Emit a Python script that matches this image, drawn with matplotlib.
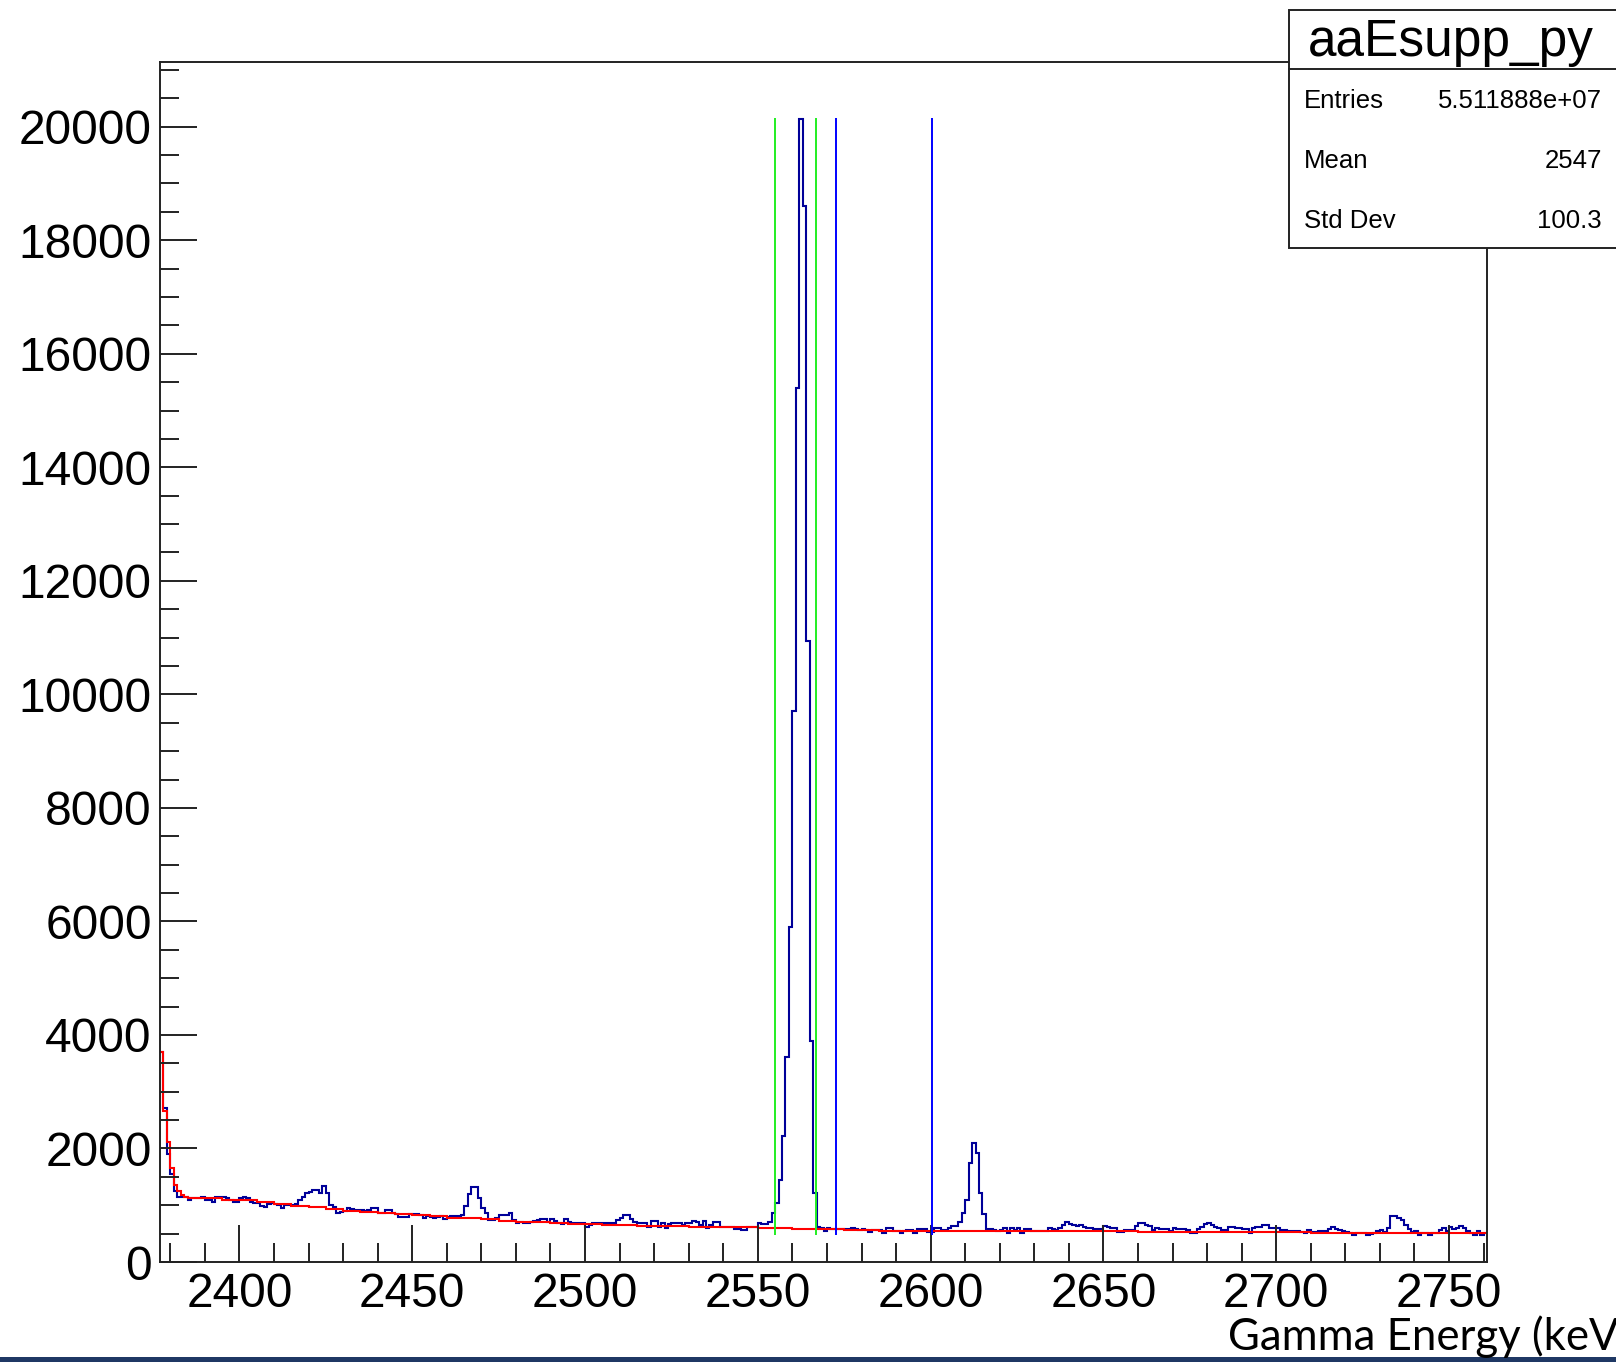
import numpy as np
import matplotlib.pyplot as plt
from matplotlib.patches import Rectangle
from matplotlib.lines import Line2D

# ROOT-like look: Helvetica -> Liberation Sans
plt.rcParams['font.family'] = ['Liberation Sans', 'DejaVu Sans']

# histogram aaEsupp_py, 1 keV bins starting at 2377 keV
e_start = 2377
counts = [
    3700, 2720, 1900, 1550, 1250, 1150, 1150, 1150, 1095, 1120,
    1120, 1120, 1150, 1090, 1090, 1060, 1150, 1150, 1140, 1120,
    1090, 1060, 1060, 1120, 1150, 1120, 1060, 1040, 1040, 990,
    975, 1030, 1040, 1030, 1000, 960, 1000, 1000, 1000, 1030,
    1090, 1150, 1210, 1240, 1270, 1270, 1210, 1340, 1210, 1000,
    975, 860, 880, 900, 960, 930, 920, 920, 920, 890,
    910, 950, 950, 870, 870, 910, 910, 860, 850, 786,
    786, 800, 845, 845, 845, 820, 770, 810, 786, 770,
    790, 816, 751, 790, 810, 810, 810, 820, 990, 1200,
    1327, 1327, 1121, 945, 857, 745, 740, 769, 826, 826,
    826, 857, 740, 693, 710, 693, 693, 700, 728, 740,
    751, 751, 700, 757, 720, 681, 675, 751, 710, 693,
    693, 681, 681, 622, 650, 693, 693, 693, 693, 693,
    693, 693, 740, 775, 826, 826, 751, 704, 681, 681,
    681, 611, 728, 728, 622, 681, 604, 669, 680, 692,
    692, 651, 681, 681, 728, 700, 651, 728, 593, 651,
    704, 704, 622, 622, 622, 622, 575, 575, 563, 563,
    622, 622, 622, 692, 669, 669, 704, 857, 1034, 1445,
    2220, 3617, 5900, 9700, 15400, 20140, 18600, 10940, 3900, 1222,
    622, 600, 552, 593, 585, 575, 575, 575, 575, 575,
    593, 580, 564, 575, 570, 534, 564, 564, 564, 517,
    593, 593, 552, 552, 517, 552, 565, 560, 517, 575,
    575, 575, 534, 534, 605, 605, 564, 564, 593, 634,
    640, 710, 860, 1100, 1740, 2096, 1920, 1222, 840, 590,
    575, 560, 546, 560, 605, 517, 593, 564, 593, 517,
    575, 575, 546, 546, 546, 546, 546, 605, 580, 564,
    593, 650, 710, 669, 650, 640, 652, 610, 593, 593,
    575, 575, 575, 634, 622, 593, 593, 534, 534, 564,
    564, 564, 634, 681, 693, 651, 634, 564, 593, 575,
    575, 575, 552, 593, 575, 575, 575, 564, 505, 505,
    575, 622, 669, 681, 651, 622, 593, 564, 564, 610,
    610, 593, 593, 575, 575, 517, 593, 622, 610, 651,
    651, 593, 593, 593, 564, 564, 552, 552, 552, 552,
    534, 505, 564, 534, 534, 552, 552, 552, 575, 622,
    575, 564, 550, 535, 505, 476, 505, 505, 505, 476,
    490, 517, 552, 564, 535, 593, 810, 810, 769, 740,
    651, 575, 535, 552, 476, 505, 505, 476, 505, 505,
    564, 593, 552, 610, 575, 593, 634, 593, 552, 505,
    476, 552, 476, 505,
]

# background estimate (red): first bins one by one, then 5 keV steps from 2385
bkg_head = [3700, 2660, 2120, 1650, 1360, 1250, 1180, 1150]
bkg_5kev = [
    1130, 1120, 1100, 1090, 1060, 1030, 990, 970, 930, 900,
    886, 870, 845, 830, 810, 780, 770, 750, 730, 710,
    700, 690, 675, 665, 655, 645, 634, 634, 630, 625,
    620, 611, 611, 605, 600, 590, 580, 575, 565, 555,
    550, 546, 546, 546, 546, 546, 546, 546, 546, 546,
    546, 540, 540, 538, 538, 535, 535, 534, 534, 534,
    534, 534, 530, 530, 520, 510, 505, 505, 505, 505,
    505, 505, 505, 505, 505, 505,
]

# gate markers
gate_green = [2554.9, 2566.8]
gate_blue = [2572.6, 2600.5]
gate_lo, gate_hi = 470, 20150

stats_names = ['Entries', 'Mean', 'Std Dev']
stats_values = ['5.511888e+07', '2547', '100.3']

edges = np.arange(e_start, e_start + len(counts) + 1)
bkg = np.concatenate([bkg_head, np.repeat(bkg_5kev, 5)])[:len(counts)]

W, H = 1616, 1362
fig = plt.figure(figsize=(W / 100, H / 100), dpi=100)
ax = fig.add_axes([160 / W, 100 / H, 1327 / W, 1200 / H])

ax.stairs(counts, edges, baseline=None, color='#000099', lw=1.5)
ax.stairs(bkg, edges, baseline=None, color='#ff0000', lw=1.5)
ax.vlines(gate_green, gate_lo, gate_hi, color='#22ee22', lw=1.4)
ax.vlines(gate_blue, gate_lo, gate_hi, color='#0000ff', lw=1.4)

ax.set_xlim(2377, 2761)
ax.set_ylim(0, 21140)
ax.set_xticks(np.arange(2400, 2751, 50))
ax.set_xticks(np.arange(2380, 2761, 10), minor=True)
ax.set_yticks(np.arange(0, 20001, 2000))
ax.set_yticks(np.arange(0, 21001, 500), minor=True)
ax.tick_params(which='both', direction='in', top=False, right=False,
               width=1.4, labelsize=34.5, color='#222222')
ax.tick_params(which='major', length=26.5)
ax.tick_params(which='minor', length=13.7)
ax.tick_params(axis='x', pad=7)
ax.tick_params(axis='y', pad=6)
for s in ax.spines.values():
    s.set_linewidth(1.4)
    s.set_color('#222222')

# stats box (runs off the right edge like in the screenshot)
box_l, box_t, box_b, box_div = 1289, 10, 248, 69
fig.add_artist(Rectangle((box_l / W, 1 - box_b / H), 0.3, (box_b - box_t) / H,
                         transform=fig.transFigure, facecolor='white',
                         edgecolor='#222222', lw=1.4, zorder=5))
fig.add_artist(Line2D([box_l / W, 1.0], [1 - box_div / H] * 2,
                      transform=fig.transFigure, color='#222222', lw=1.4, zorder=6))
fig.text(1451 / W, 1 - 56 / H, 'aaEsupp_py', ha='center', va='baseline',
         fontsize=37, zorder=7)
for i, (nm, val) in enumerate(zip(stats_names, stats_values)):
    yb = 1 - (108 + 60 * i) / H
    fig.text(1304 / W, yb, nm, ha='left', va='baseline', fontsize=18.5, zorder=7)
    fig.text(1602 / W, yb, val, ha='right', va='baseline', fontsize=18.5, zorder=7)

# slide annotation + bottom bar
fig.text(1228 / W, 12 / H, 'Gamma Energy (keV)', family=['Lato', 'DejaVu Sans'],
         fontsize=31.5, ha='left', va='baseline')
fig.add_artist(Rectangle((0, 0), 1, 5 / H, transform=fig.transFigure,
                         facecolor='#1f3864', edgecolor='none'))

plt.savefig('out.png', dpi=100)
